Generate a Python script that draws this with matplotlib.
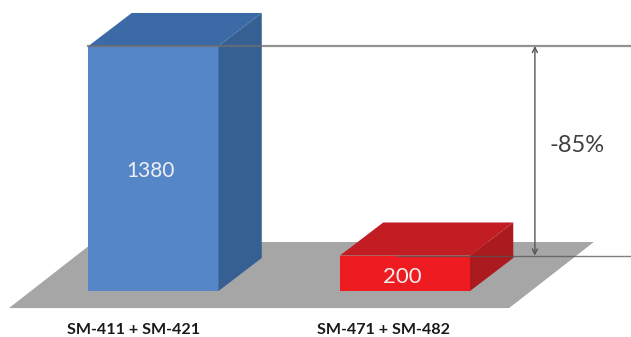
import matplotlib
matplotlib.use('Agg')
import matplotlib.pyplot as plt
from matplotlib.patches import Polygon

labels = ['SM-411 + SM-421', 'SM-471 + SM-482']
values = [1380, 200]
change_label = '-85%'

front_colors = ['#5587c8', '#ee1c20']
top_colors = ['#3c6aa6', '#c21d22']
side_colors = ['#365f92', '#ab1a1e']

bar_width = 0.517
depth_x = 0.172
depth_y = 186
value_fontsize = [15, 16]
value_height = [0.49, 0.39]
label_shift = [-0.081, -0.087]
plt.rcParams['font.family'] = ['Lato', 'DejaVu Sans']

fig = plt.figure(figsize=(6.31, 3.37), dpi=100)
ax = fig.add_axes([0, 0, 1, 1])
ax.set_xlim(-0.6103, 1.8986)
ax.set_ylim(-259, 1639)
ax.axis('off')

# floor under the bars
floor_left = -0.5745
floor_right = 1.414
floor_front = -96
floor_back = 276
floor_shift = 0.337
ax.add_patch(Polygon([(floor_left, floor_front), (floor_right, floor_front),
                      (floor_right + floor_shift, floor_back),
                      (floor_left + floor_shift, floor_back)],
                     facecolor='#a6a6a6', edgecolor='none', zorder=1))

# front faces come from the values, side and top are offset by the depth
xs = list(range(len(values)))
ax.bar(xs, values, width=bar_width, color=front_colors, zorder=3)
for x, v, top_c, side_c in zip(xs, values, top_colors, side_colors):
    left = x - bar_width / 2
    right = x + bar_width / 2
    ax.add_patch(Polygon([(left, v), (right, v), (right + depth_x, v + depth_y),
                          (left + depth_x, v + depth_y)],
                         facecolor=top_c, edgecolor='none', zorder=3))
    ax.add_patch(Polygon([(right, 0), (right + depth_x, depth_y),
                          (right + depth_x, v + depth_y), (right, v)],
                         facecolor=side_c, edgecolor='none', zorder=3))
    ax.text(x - 0.012, v * value_height[x], str(v), color='#f0f0f0', fontsize=value_fontsize[x],
            ha='center', va='center', zorder=5)
    ax.text(x + label_shift[x], -222, labels[x], color='#1a1a1a', fontsize=11.6,
            fontweight='bold', ha='center', va='center', zorder=5)

# guide lines at the height of each bar
line_end = 1.8986
ax.plot([-bar_width / 2, line_end], [values[0], values[0]], color='#6e6e6e', alpha=0.75, lw=1.6, zorder=4)
ax.plot([1 + bar_width / 2 - 0.29, line_end], [values[1], values[1]], color='#555555', alpha=0.75, lw=1.0, zorder=4)

# double arrow between the two heights
arrow_x = 1.5165
ax.annotate('', xy=(arrow_x, values[0]), xytext=(arrow_x, values[1]), zorder=6,
            arrowprops=dict(arrowstyle='<->', color='#555555', lw=1.0, mutation_scale=9,
                            shrinkA=0, shrinkB=0))
ax.text(1.685, 818, change_label, color='#404040', fontsize=17, ha='center', va='center', zorder=5)

fig.savefig('out.png', dpi=100, facecolor='white')
